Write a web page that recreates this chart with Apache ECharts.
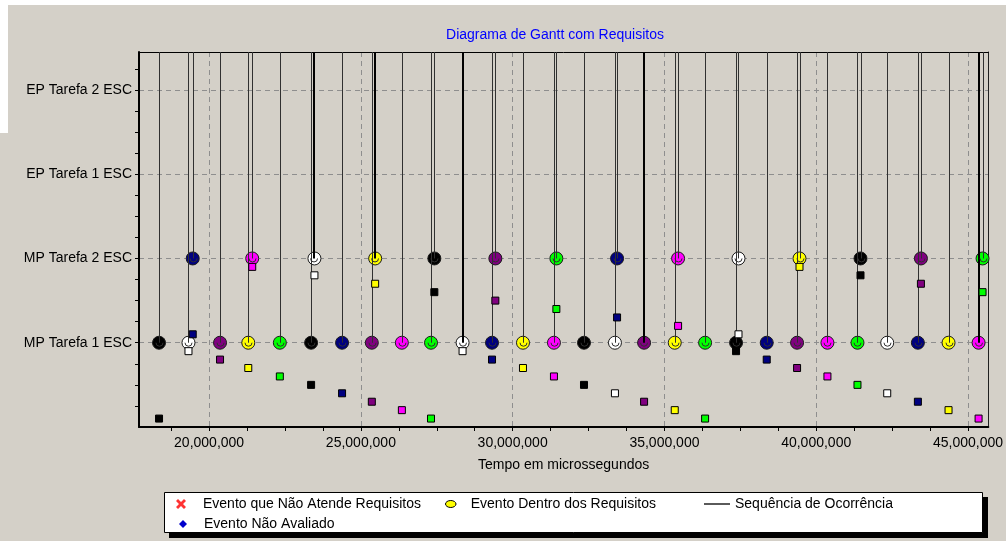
<!DOCTYPE html>
<html>
<head>
<meta charset="utf-8">
<title>Diagrama de Gantt com Requisitos</title>
<script src="https://cdn.jsdelivr.net/npm/echarts@6/dist/echarts.min.js"></script>
<style>
  html, body { margin: 0; padding: 0; background: #fff; }
  #chart { width: 1006px; height: 541px; }
</style>
</head>
<body>
<div id="chart"></div>
<script>
// linhas do eixo y, de baixo para cima (valor 1..4)
const rowLabels = ['MP Tarefa 1 ESC', 'MP Tarefa 2 ESC', 'EP Tarefa 1 ESC', 'EP Tarefa 2 ESC']

// eventos da MP Tarefa 1 ESC (tempo em microssegundos)
const mp1Times = [18350000, 19320000, 20360000, 21290000, 22330000, 23360000, 24380000,
  25360000, 26350000, 27310000, 28350000, 29320000, 30340000, 31360000, 32350000, 33370000,
  34330000, 35340000, 36340000, 37360000, 38370000, 39370000, 40370000, 41360000, 42340000,
  43350000, 44360000, 45350000]
const mp1Tasks = ['preto', 'branco', 'roxo', 'amarelo', 'verde', 'preto', 'azul', 'roxo', 'magenta',
  'verde', 'branco', 'azul', 'amarelo', 'magenta', 'preto', 'branco', 'roxo', 'amarelo', 'verde',
  'preto', 'azul', 'roxo', 'magenta', 'verde', 'branco', 'azul', 'amarelo', 'magenta']
const mp1Marks = [0.1, 0.9, 0.8, 0.7, 0.6, 0.5, 0.4, 0.3, 0.2, 0.1, 0.9, 0.8, 0.7, 0.6, 0.5, 0.4,
  0.3, 0.2, 0.1, 0.9, 0.8, 0.7, 0.6, 0.5, 0.4, 0.3, 0.2, 0.1]

// eventos da MP Tarefa 2 ESC
const mp2Times = [19460000, 21420000, 23470000, 25470000, 27420000, 29430000, 31440000,
  33440000, 35450000, 37440000, 39450000, 41460000, 43450000, 45480000]
const mp2Tasks = ['azul', 'magenta', 'branco', 'amarelo', 'preto', 'roxo', 'verde', 'azul',
  'magenta', 'branco', 'amarelo', 'preto', 'roxo', 'verde']
const mp2Marks = [1.1, 1.9, 1.8, 1.7, 1.6, 1.5, 1.4, 1.3, 1.2, 1.1, 1.9, 1.8, 1.7, 1.6]

// linhas da sequência percorridas duas vezes
const doublePasses = [23470000, 25470000, 28350000, 34330000, 45350000]

// marcas e rótulos dos eixos
const xTicks = [18750000, 20000000, 21250000, 22500000, 23750000, 25000000, 26250000, 27500000,
  28750000, 30000000, 31250000, 32500000, 33750000, 35000000, 36250000, 37500000, 38750000,
  40000000, 41250000, 42500000, 43750000, 45000000]
const xLabels = [20000000, 25000000, 30000000, 35000000, 40000000, 45000000]
const yTicks = [0.25, 0.5, 0.75, 1, 1.25, 1.5, 1.75, 2, 2.25, 2.5, 2.75, 3, 3.25, 3.5, 3.75, 4, 4.25]
const yLabels = [1, 2, 3, 4]

const palette = {
  preto: '#000000',
  branco: '#ffffff',
  roxo: '#800080',
  amarelo: '#ffff00',
  verde: '#00ff00',
  azul: '#000080',
  magenta: '#ff00ff'
}

const FONT = "'Liberation Sans', Arial, sans-serif"
const xMin = 17690000
const xMax = 45670000
const yMax = 4.45

// montagem dos eventos
const events = []
mp1Times.forEach((t, i) => events.push({ t: t, row: 1, task: mp1Tasks[i], mark: mp1Marks[i] }))
mp2Times.forEach((t, i) => events.push({ t: t, row: 2, task: mp2Tasks[i], mark: mp2Marks[i] }))

const circleData = events.map(e => ({ value: [e.t, e.row], itemStyle: { color: palette[e.task] } }))
const squareData = events.map(e => ({ value: [e.t, e.mark], itemStyle: { color: palette[e.task] } }))
const lineData = events.map(e => [e.t, e.row, doublePasses.indexOf(e.t) >= 0 ? 2 : 1])

const chart = echarts.init(document.getElementById('chart'))

const dashed = { color: '#8e8e8e', width: 1, type: [5, 4] }
const legendText = { fontSize: 14, color: '#000', fontFamily: FONT }

const option = {
  backgroundColor: '#d4d0c8',
  animation: false,
  textStyle: { fontFamily: FONT },
  title: {
    text: 'Diagrama de Gantt com Requisitos',
    left: 555,
    textAlign: 'center',
    top: 28,
    padding: 0,
    textStyle: { color: '#0000ff', fontSize: 14, fontWeight: 'normal', fontFamily: FONT }
  },
  graphic: [
    { type: 'rect', shape: { x: 0, y: 0, width: 1006, height: 5 }, style: { fill: '#ffffff' }, silent: true },
    { type: 'rect', shape: { x: 0, y: 0, width: 8, height: 133 }, style: { fill: '#ffffff' }, silent: true },
    // caixa da legenda com sombra
    { type: 'rect', shape: { x: 169, y: 497, width: 819, height: 41 }, style: { fill: '#000000' }, silent: true },
    { type: 'rect', shape: { x: 164.5, y: 492.5, width: 818, height: 40 }, style: { fill: '#ffffff', stroke: '#000000', lineWidth: 1 }, silent: true }
  ],
  legend: [
    {
      left: 176, top: 497, padding: 0, itemWidth: 34, itemHeight: 10, selectedMode: false,
      textStyle: legendText,
      data: [{
        name: 'Evento que Não Atende Requisitos',
        icon: 'path://M0,2L2,0L5,3L8,0L10,2L7,5L10,8L8,10L5,7L2,10L0,8L3,5Z',
        itemStyle: { color: '#ff0000', borderWidth: 0 }
      }]
    },
    {
      left: 445, top: 497, padding: 0, itemWidth: 30, itemHeight: 7, selectedMode: false,
      textStyle: legendText,
      data: [{
        name: 'Evento Dentro dos Requisitos',
        icon: 'path://M0,4A6,4 0 1 1 12,4A6,4 0 1 1 0,4Z',
        itemStyle: { color: '#ffff00', borderColor: '#000', borderWidth: 1 }
      }]
    },
    {
      left: 704, top: 497, padding: 0, itemWidth: 26, itemHeight: 10, selectedMode: false,
      textStyle: legendText,
      data: [{
        name: 'Sequência de Ocorrência',
        icon: 'path://M0,0H26V1.6H0Z',
        itemStyle: { color: '#303030', borderWidth: 0 }
      }]
    },
    {
      left: 179, top: 517, padding: 0, itemWidth: 32, itemHeight: 8, selectedMode: false,
      textStyle: legendText,
      data: [{
        name: 'Evento Não Avaliado',
        icon: 'path://M4,0L8,4L4,8L0,4Z',
        itemStyle: { color: '#0000cc', borderWidth: 0 }
      }]
    }
  ],
  grid: { left: 139, right: 15, top: 52, bottom: 114 },
  xAxis: [
    {
      type: 'value',
      min: xMin,
      max: xMax,
      name: 'Tempo em microssegundos',
      nameLocation: 'middle',
      nameGap: 31,
      nameTextStyle: { fontSize: 14, color: '#000', fontFamily: FONT },
      axisLine: { show: true, onZero: false, lineStyle: { color: '#000', width: 2 } },
      axisTick: { show: true, length: 4, customValues: xTicks, lineStyle: { color: '#000' } },
      axisLabel: {
        customValues: xLabels,
        margin: 9,
        fontSize: 14,
        color: '#000',
        fontFamily: FONT,
        formatter: v => v.toLocaleString('en-US')
      },
      splitLine: { show: false }
    },
    {
      // borda superior + grade vertical a cada 5.000.000
      type: 'value',
      position: 'top',
      min: xMin,
      max: xMax,
      splitNumber: 5,
      axisLine: { show: true, onZero: false, lineStyle: { color: '#000', width: 1 } },
      axisTick: { show: false },
      axisLabel: { show: false },
      splitLine: { show: true, showMinLine: false, showMaxLine: false, lineStyle: dashed }
    }
  ],
  yAxis: [
    {
      type: 'value',
      min: 0,
      max: yMax,
      interval: 1,
      axisLine: { show: true, onZero: false, lineStyle: { color: '#000', width: 2 } },
      axisTick: { show: true, length: 4, customValues: yTicks, lineStyle: { color: '#000' } },
      axisLabel: {
        customValues: yLabels,
        margin: 7,
        fontSize: 14,
        color: '#000',
        fontFamily: FONT,
        formatter: v => rowLabels[Math.round(v) - 1] || ''
      },
      splitLine: { show: false }
    },
    {
      // borda direita + grade horizontal nas tarefas
      type: 'value',
      position: 'right',
      min: 0,
      max: yMax,
      interval: 1,
      axisLine: { show: true, onZero: false, lineStyle: { color: '#202020', width: 1 } },
      axisTick: { show: false },
      axisLabel: { show: false },
      splitLine: { show: true, showMinLine: false, showMaxLine: false, lineStyle: dashed }
    }
  ],
  series: [
    {
      name: 'Evento que Não Atende Requisitos',
      type: 'scatter',
      symbol: 'circle',
      itemStyle: { color: '#ff0000' },
      data: []
    },
    {
      name: 'Evento Dentro dos Requisitos',
      type: 'scatter',
      symbol: 'circle',
      symbolSize: 13,
      z: 2,
      itemStyle: { color: '#ffff00', borderColor: '#1a1a1a', borderWidth: 1, opacity: 1 },
      emphasis: { disabled: true },
      data: circleData
    },
    {
      // linha de ocorrência sobe de cada evento até o topo da área
      name: 'Sequência de Ocorrência',
      type: 'custom',
      z: 3,
      clip: true,
      itemStyle: { color: '#303030' },
      data: lineData,
      renderItem: function (params, api) {
        const p = api.coord([api.value(0), api.value(1)])
        const top = params.coordSys.y
        const w = api.value(2)
        const x = w > 1 ? Math.round(p[0]) : Math.round(p[0]) + 0.5
        return {
          type: 'group',
          children: [
            {
              type: 'line',
              shape: { x1: x, y1: top, x2: x, y2: p[1] },
              style: { stroke: w > 1 ? '#000' : '#303030', lineWidth: w }
            },
            {
              type: 'arc',
              shape: { cx: x, cy: p[1], r: 3.5, startAngle: 0, endAngle: Math.PI, clockwise: true },
              style: { stroke: '#303030', fill: null, lineWidth: 1 }
            }
          ]
        }
      }
    },
    {
      name: 'Evento Não Avaliado',
      type: 'scatter',
      symbol: 'rect',
      symbolSize: 7,
      z: 4,
      itemStyle: { color: '#0000cc', borderColor: '#000', borderWidth: 1, opacity: 1 },
      emphasis: { disabled: true },
      data: squareData
    }
  ]
}

chart.setOption(option)
window.addEventListener('resize', () => chart.resize())
</script>
</body>
</html>
